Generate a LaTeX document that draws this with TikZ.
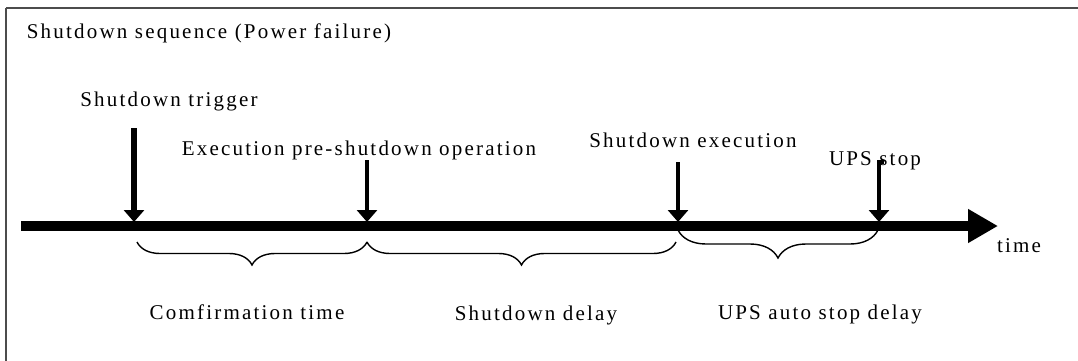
\documentclass[tikz,border=0pt]{standalone}
\usepackage{fontspec}
\setmainfont{Liberation Serif}
\newfontfamily\lblfont{Liberation Serif}[LetterSpace=10.5]
\usetikzlibrary{arrows.meta,decorations.pathreplacing}

\begin{document}
\begin{tikzpicture}[x=1pt,y=-1pt,
  lbl/.style={inner sep=0pt,anchor=base,font=\lblfont\fontsize{21}{23}\selectfont},
  frameline/.style={draw=black!70,line width=2.5pt},
  timeaxis/.style={line width=10pt,-{Triangle[length=30pt,width=32pt]}},
  event/.style={line width=4.5pt,-{Triangle[length=12pt,width=20pt]}},
  span/.style={line width=1.4pt,decorate,decoration={brace,mirror,amplitude=#1}}
]
\useasboundingbox (0,0) rectangle (1078,361);

% partial frame (top and left edges)
\draw[frameline] (6,8) -- (1078,8);
\draw[frameline] (6,8) -- (6,361);

% title
\node[lbl] (title) at (209,39) {Shutdown sequence (Power failure)};

% time axis
\coordinate (ax0) at (21,226);
\coordinate (ax1) at (998,226);
\draw[timeaxis] (ax0) -- (ax1);
\node[lbl] (timelbl) at (1019,252) {time};

% event points on the axis
\coordinate (t1) at (134,222);
\coordinate (t2) at (367,222);
\coordinate (t3) at (678,222);
\coordinate (t4) at (879,222);

% tops of the event arrows
\coordinate (a1) at (134,128);
\coordinate (a2) at (367,160);
\coordinate (a3) at (678,162);
\coordinate (a4) at (879,162);
\coordinate (a4h) at (884,162);

\draw[event,line width=6pt] (a1) -- (t1);
\draw[event] (a2) -- (t2);
\draw[event] (a3) -- (t3);
\draw[event] (a4h) -- (a4) -- (t4);

% event labels
\node[lbl] (trig) at (169,106) {Shutdown trigger};
\node[lbl] (pre)  at (359,155) {Execution pre-shutdown operation};
\node[lbl] (exec) at (693,147) {Shutdown execution};
\node[lbl] (ups)  at (875,165) {UPS stop};

% interval braces
\coordinate (b1l) at (137,242);
\coordinate (b1r) at (367,242);
\coordinate (b2l) at (367,242);
\coordinate (b2r) at (676,242);
\coordinate (b3l) at (678,230);
\coordinate (b3r) at (878,230);
\draw[span=23pt] (b1l) -- (b1r);
\draw[span=23pt] (b2l) -- (b2r);
\draw[span=28pt] (b3l) -- (b3r);

% interval labels
\node[lbl] (conf) at (247,319) {Comfirmation time};
\node[lbl] (sdd)  at (536,320) {Shutdown delay};
\node[lbl] (upsd) at (820,319) {UPS auto stop delay};
\end{tikzpicture}
\end{document}
